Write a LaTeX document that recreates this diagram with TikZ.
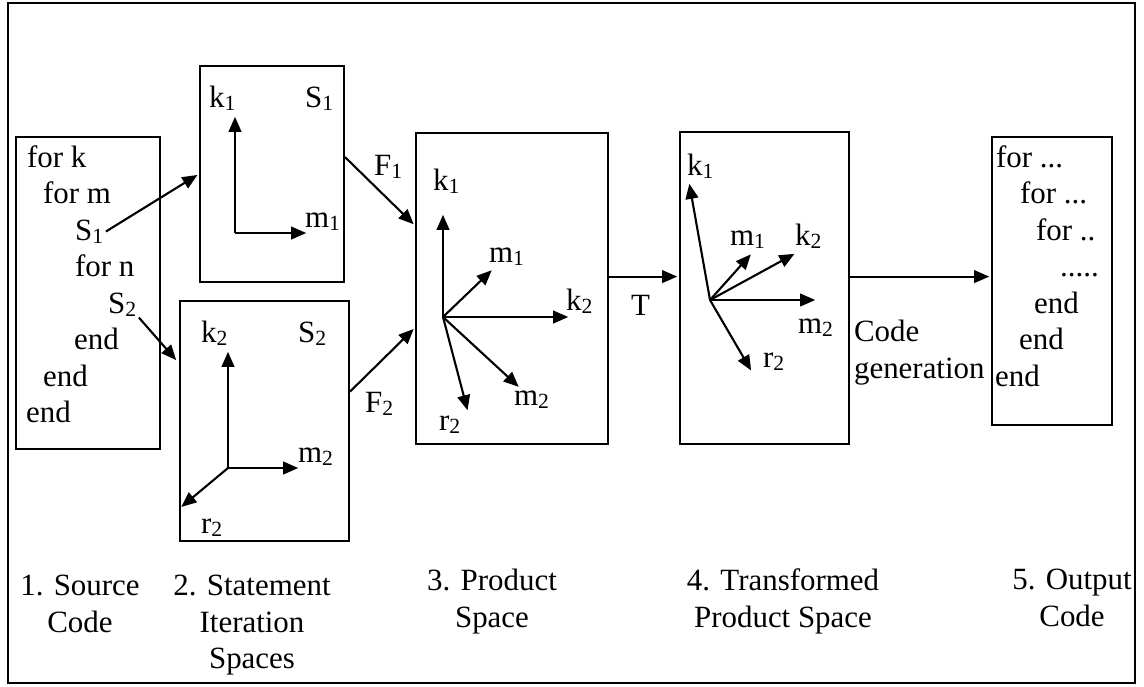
\documentclass[tikz,border=0pt]{standalone}
\usepackage{fontspec}
\setmainfont{Liberation Serif}
\usetikzlibrary{arrows.meta}

\begin{document}
\begin{tikzpicture}[x=1cm, y=-1cm, >={Triangle[length=4.3pt,width=3.6pt]}, line width=0.6pt, font=\fontsize{8.8}{10.4}\selectfont]

  \tikzstyle{Box}=[draw, rectangle, inner sep=0pt]
  \tikzstyle{Txt}=[inner sep=0pt, anchor=base west]
  \tikzstyle{Lab}=[inner sep=0pt, align=center, anchor=north]
  \tikzstyle{A}=[->, shorten >=0.5pt]

  \useasboundingbox (0,0) rectangle (11.44,6.86);
  \draw (0.08,0.03) rectangle (11.35,6.83);

  % the five boxes
  \node[Box, minimum width=1.44cm, minimum height=3.12cm] at (0.88,2.93) (src) {};
  \node[Box, minimum width=1.44cm, minimum height=2.16cm] at (2.72,1.74) (stmtA) {};
  \node[Box, minimum width=1.69cm, minimum height=2.40cm] at (2.645,4.21) (stmtB) {};
  \node[Box, minimum width=1.92cm, minimum height=3.11cm] at (5.12,2.885) (prod) {};
  \node[Box, minimum width=1.69cm, minimum height=3.12cm] at (7.645,2.88) (trans) {};
  \node[Box, minimum width=1.20cm, minimum height=2.88cm] at (10.52,2.81) (out) {};

  % source code
  \node[Txt] at (0.26,1.67) (src1) {for k};
  \node[Txt] at (0.42,2.035) (src2) {for m};
  \node[Txt] at (0.74,2.40) (srcSone) {S\textsubscript{1}};
  \node[Txt] at (0.74,2.765) (src4) {for n};
  \node[Txt] at (1.07,3.13) (srcStwo) {S\textsubscript{2}};
  \node[Txt] at (0.73,3.495) (src6) {end};
  \node[Txt] at (0.42,3.86) (src7) {end};
  \node[Txt] at (0.25,4.225) (src8) {end};

  % output code
  \node[Txt] at (9.95,1.67) (out1) {for ...};
  \node[Txt] at (10.19,2.035) (out2) {for ...};
  \node[Txt] at (10.35,2.40) (out3) {for ..};
  \node[Txt] at (10.59,2.765) (out4) {.....};
  \node[Txt] at (10.33,3.13) (out5) {end};
  \node[Txt] at (10.18,3.495) (out6) {end};
  \node[Txt] at (9.94,3.86) (out7) {end};

  % statement S1
  \coordinate (oA) at (2.35,2.33);
  \coordinate (kAtip) at (2.35,1.15);
  \coordinate (mAtip) at (3.08,2.33);
  \node[Txt] at (2.08,1.07) (kA) {k\textsubscript{1}};
  \node[Txt] at (3.04,1.07) (sA) {S\textsubscript{1}};
  \node[Txt] at (3.04,2.27) (mA) {m\textsubscript{1}};
  \draw [A] (oA) -- (kAtip);
  \draw [A] (oA) -- (mAtip);

  % statement S2
  \coordinate (oB) at (2.28,4.68);
  \coordinate (kBtip) at (2.28,3.50);
  \coordinate (mBtip) at (3.00,4.68);
  \coordinate (rBtip) at (1.80,5.08);
  \node[Txt] at (2.00,3.42) (kB) {k\textsubscript{2}};
  \node[Txt] at (2.97,3.42) (sB) {S\textsubscript{2}};
  \node[Txt] at (2.97,4.62) (mB) {m\textsubscript{2}};
  \node[Txt] at (2.00,5.33) (rB) {r\textsubscript{2}};
  \draw [A] (oB) -- (kBtip);
  \draw [A] (oB) -- (mBtip);
  \draw [A] (oB) -- (rBtip);

  % product space
  \coordinate (oC) at (4.43,3.17);
  \coordinate (kCtip) at (4.43,2.13);
  \coordinate (mCtip) at (4.93,2.69);
  \coordinate (kkCtip) at (5.70,3.17);
  \coordinate (mmCtip) at (5.20,3.88);
  \coordinate (rCtip) at (4.68,4.12);
  \node[Txt] at (4.32,1.90) (kC) {k\textsubscript{1}};
  \node[Txt] at (4.88,2.62) (mC) {m\textsubscript{1}};
  \node[Txt] at (5.65,3.10) (kkC) {k\textsubscript{2}};
  \node[Txt] at (5.13,4.05) (mmC) {m\textsubscript{2}};
  \node[Txt] at (4.38,4.30) (rC) {r\textsubscript{2}};
  \draw [A] (oC) -- (kCtip);
  \draw [A] (oC) -- (mCtip);
  \draw [A] (oC) -- (kkCtip);
  \draw [A] (oC) -- (mmCtip);
  \draw [A] (oC) -- (rCtip);

  % transformed product space
  \coordinate (oD) at (7.10,3.00);
  \coordinate (kDtip) at (6.89,1.82);
  \coordinate (mDtip) at (7.52,2.53);
  \coordinate (kkDtip) at (7.96,2.53);
  \coordinate (mmDtip) at (8.17,3.00);
  \coordinate (rDtip) at (7.52,3.72);
  \node[Txt] at (6.86,1.75) (kD) {k\textsubscript{1}};
  \node[Txt] at (7.29,2.45) (mD) {m\textsubscript{1}};
  \node[Txt] at (7.94,2.45) (kkD) {k\textsubscript{2}};
  \node[Txt] at (7.97,3.33) (mmD) {m\textsubscript{2}};
  \node[Txt] at (7.62,3.67) (rD) {r\textsubscript{2}};
  \draw [A] (oD) -- (kDtip);
  \draw [A] (oD) -- (mDtip);
  \draw [A] (oD) -- (kkDtip);
  \draw [A] (oD) -- (mmDtip);
  \draw [A] (oD) -- (rDtip);

  % mappings between the stages
  \draw [A] (srcSone.east) to (stmtA.west);
  \draw [A, shorten >=1.2pt] (srcStwo.south east) to (stmtB.146);
  \draw [A] (stmtA.13) to (prod.147);
  \draw [A] (stmtB.19) to (prod.202);
  \draw [A] (prod.7) to (trans.west |- prod.7);
  \draw [A] (trans.east |- prod.7) to (out.west |- prod.7);

  \node[Txt] at (3.73,1.75) (F1) {F\textsubscript{1}};
  \node[Txt] at (3.64,4.12) (F2) {F\textsubscript{2}};
  \node[Txt] at (6.30,3.15) (Tlab) {T};
  \node[inner sep=0pt, align=left, anchor=north west] at (8.53,3.19) (gen) {Code\\generation};

  % stage captions
  \node[Lab] at (0.80,5.74) (cap1) {1. Source\\Code};
  \node[Lab] at (2.52,5.74) (cap2) {2. Statement\\Iteration\\Spaces};
  \node[Lab] at (4.92,5.68) (cap3) {3. Product\\Space};
  \node[Lab] at (7.83,5.68) (cap4) {4. Transformed\\Product Space};
  \node[Lab] at (10.72,5.68) (cap5) {5. Output\\Code};

\end{tikzpicture}
\end{document}
